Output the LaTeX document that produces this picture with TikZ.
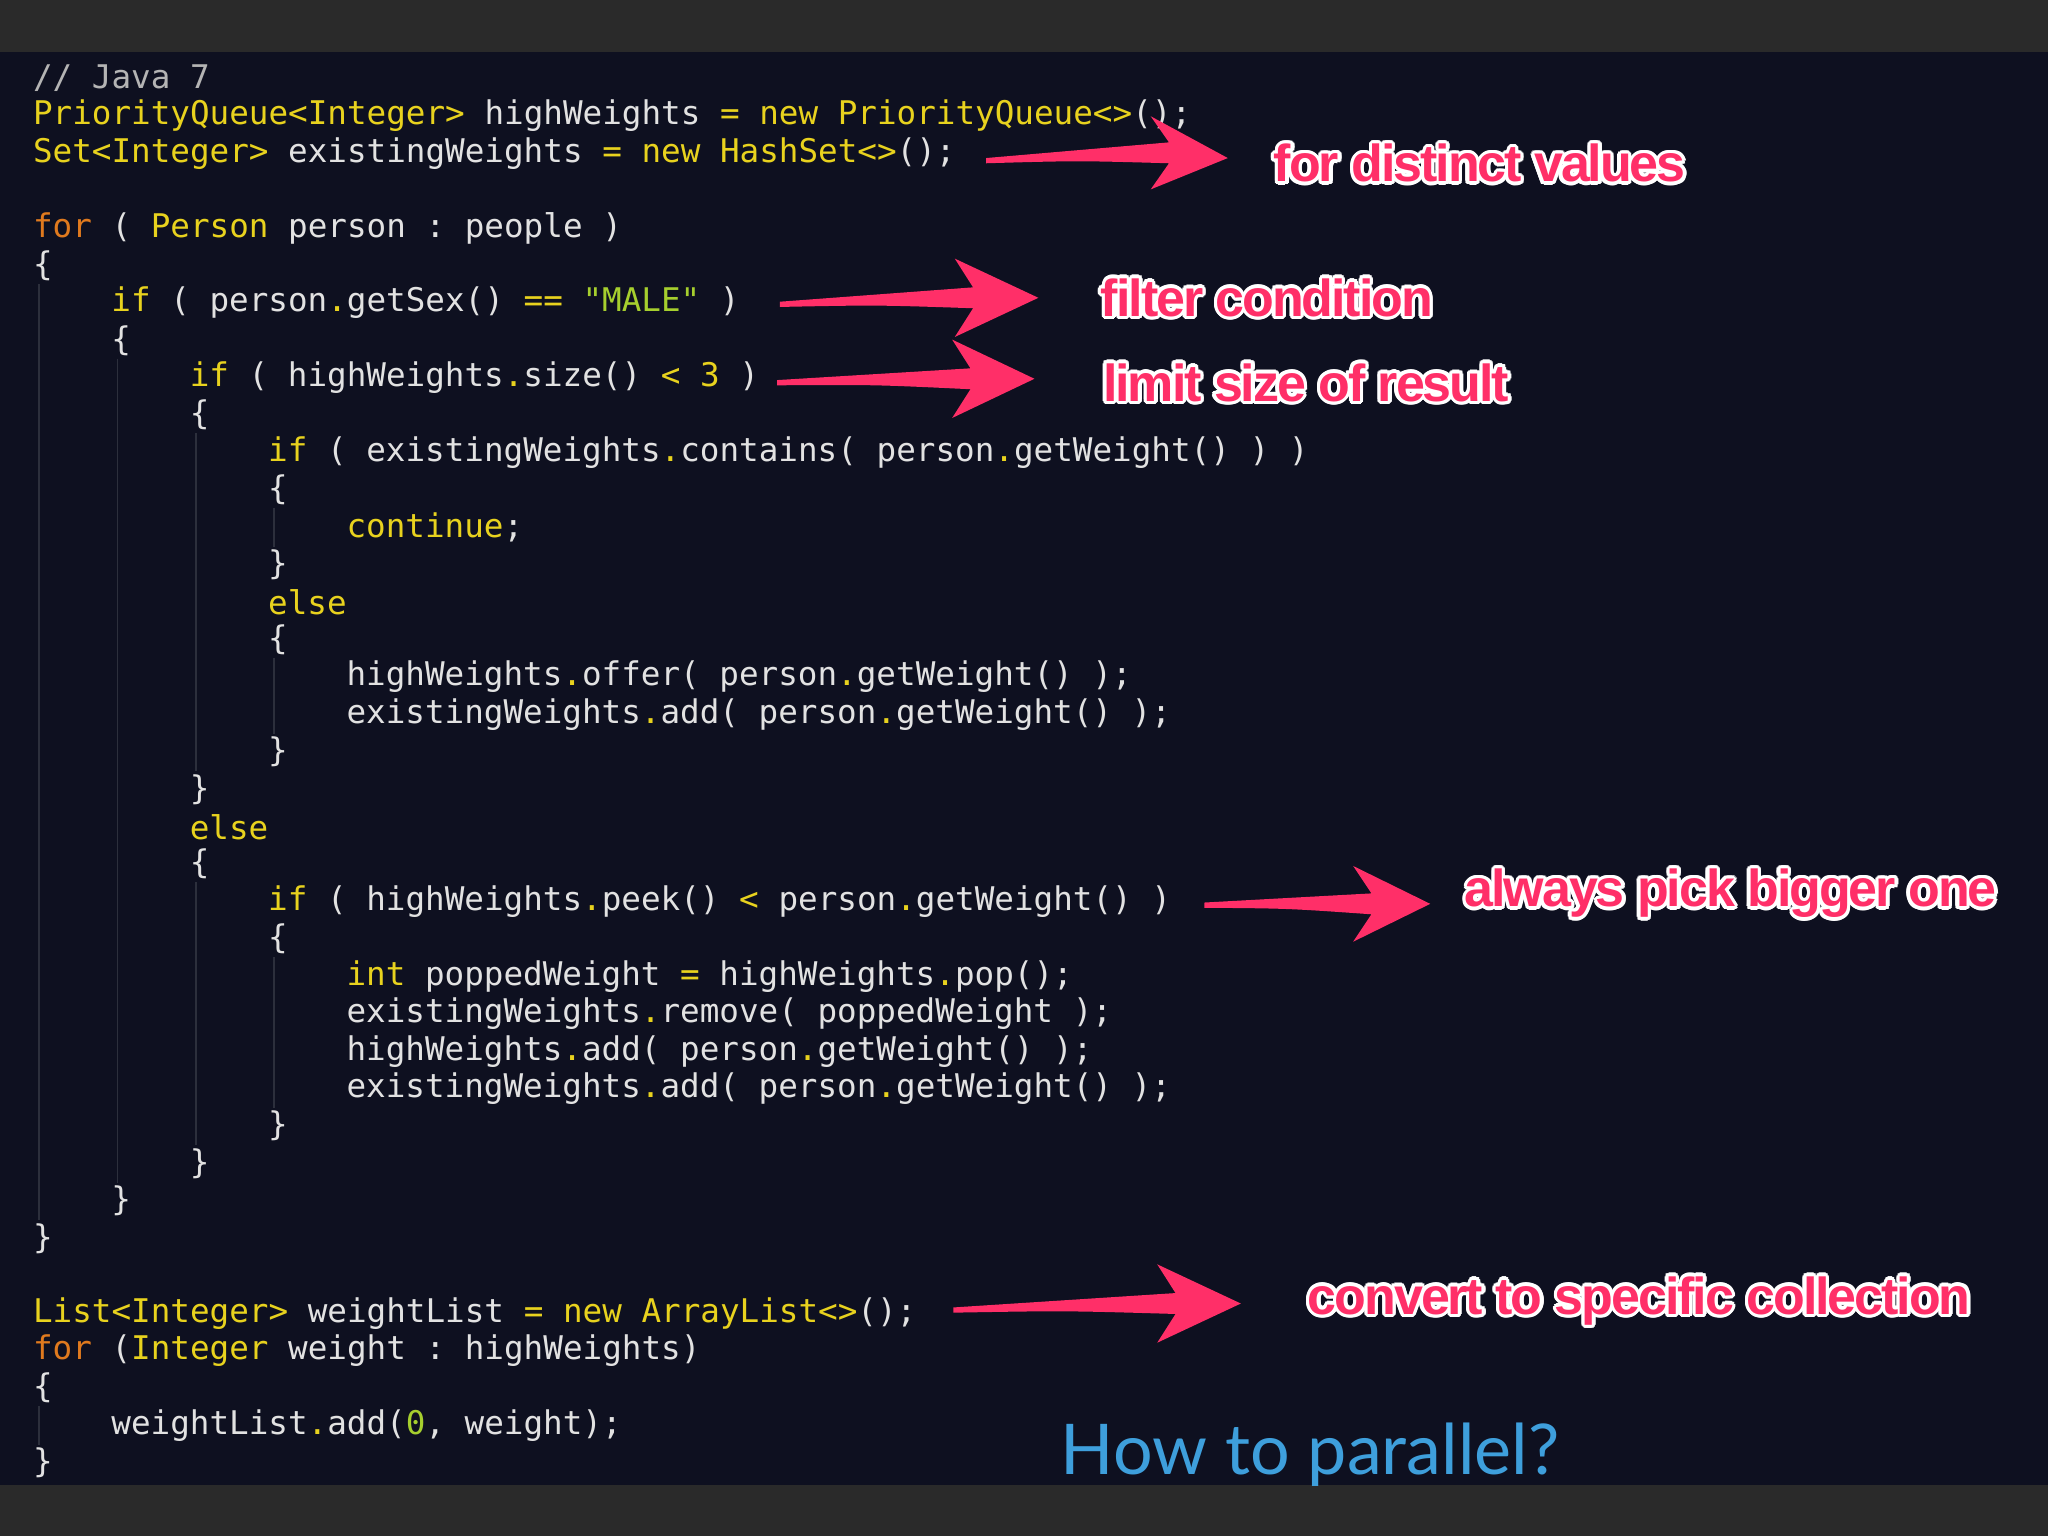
\documentclass[tikz,border=0pt]{standalone}
\usepackage{fontspec}
\setmonofont{DejaVu Sans Mono}
\newfontfamily\labfont[LetterSpace=-4]{Liberation Sans Bold}
\newfontfamily\howfont{Lato}
\usetikzlibrary{calc}
\definecolor{bg}{HTML}{0E1020}
\definecolor{bar}{HTML}{2A2A2A}
\definecolor{codefg}{HTML}{E2E2E2}
\definecolor{kw}{HTML}{E8D21E}
\definecolor{kwo}{HTML}{E07A1E}
\definecolor{str}{HTML}{A6CF2E}
\definecolor{cmt}{HTML}{B4B4B4}
\definecolor{pinkc}{HTML}{FF2F68}
\definecolor{guide}{HTML}{2C2F3C}
\definecolor{howc}{HTML}{3E9FDC}
\newcommand{\K}[1]{\textcolor{kw}{#1}}
\newcommand{\F}[1]{\textcolor{kwo}{#1}}
\newcommand{\G}[1]{\textcolor{str}{#1}}
\tikzset{
  code/.style={anchor=west,inner sep=0pt,text=codefg,font=\fontsize{16.3}{18}\selectfont\ttfamily},
  lab/.style={inner sep=0pt,font=\fontsize{26}{30}\selectfont\labfont},
  guideline/.style={draw=guide,line width=0.8pt},
}
\newcommand{\cl}[3]{\node[code] (l#1) at ({25+60*#2},{60+28.65*#1}) {#3};}
\newcommand{\olabel}[4]{%
  \foreach \a in {0,22.5,...,337.5} \node[lab,text=white] at ($(#2,#3)+(\a:1.7pt)$) {#4};
  \node[lab,text=pinkc] (#1) at (#2,#3) {#4};}
\newcommand{\fatarrow}[8]{%
  \coordinate (#1t) at (#2,#3);
  \coordinate (#1b) at (#4,#5);
  \coordinate (#1h) at (#6,#7);
  \fill[pinkc] ($(#1t)+(0,-2)$) .. controls ($(#1t)!0.5!(#1b)+(0,-5)$) .. ($(#1b)+(0,-8)$)
     -- ($(#1b)+(-14,-#8)$) -- (#1h) -- ($(#1b)+(-14,#8)$) -- ($(#1b)+(0,8)$)
     .. controls ($(#1t)!0.5!(#1b)+(0,3)$) .. ($(#1t)+(0,2)$) -- cycle;}
\begin{document}
\begin{tikzpicture}[x=0.653pt,y=-0.653pt]
\useasboundingbox (0,0) rectangle (1568,1176);
\fill[bg] (0,0) rectangle (1568,1176);
\fill[bar] (0,0) rectangle (1568,40);
\fill[bar] (0,1137) rectangle (1568,1176);
\foreach \lv/\a/\b in {0/5/31,1/7/30,2/9/19,3/11/13,3/15/18,2/21/29,3/23/28,0/35/37}
  \draw[guideline] ({30+60*\lv},{60+28.65*\a+14}) -- ({30+60*\lv},{60+28.65*\b-14});
\node[code,text=cmt] (l0) at (25,60) {// Java 7};
\cl{1}{0}{\K{PriorityQueue<Integer>} highWeights \K{=} \K{new} \K{PriorityQueue<>}();}
\cl{2}{0}{\K{Set<Integer>} existingWeights \K{=} \K{new} \K{HashSet<>}();}
\cl{4}{0}{\F{for} ( \K{Person} person : people )}
\cl{5}{0}{\{}
\cl{6}{1}{\K{if} ( person\K{.}getSex() \K{==} \G{"MALE"} )}
\cl{7}{1}{\{}
\cl{8}{2}{\K{if} ( highWeights\K{.}size() \K{<} \K{3} )}
\cl{9}{2}{\{}
\cl{10}{3}{\K{if} ( existingWeights\K{.}contains( person\K{.}getWeight() ) )}
\cl{11}{3}{\{}
\cl{12}{4}{\K{continue};}
\cl{13}{3}{\}}
\cl{14}{3}{\K{else}}
\cl{15}{3}{\{}
\cl{16}{4}{highWeights\K{.}offer( person\K{.}getWeight() );}
\cl{17}{4}{existingWeights\K{.}add( person\K{.}getWeight() );}
\cl{18}{3}{\}}
\cl{19}{2}{\}}
\cl{20}{2}{\K{else}}
\cl{21}{2}{\{}
\cl{22}{3}{\K{if} ( highWeights\K{.}peek() \K{<} person\K{.}getWeight() )}
\cl{23}{3}{\{}
\cl{24}{4}{\K{int} poppedWeight \K{=} highWeights\K{.}pop();}
\cl{25}{4}{existingWeights\K{.}remove( poppedWeight );}
\cl{26}{4}{highWeights\K{.}add( person\K{.}getWeight() );}
\cl{27}{4}{existingWeights\K{.}add( person\K{.}getWeight() );}
\cl{28}{3}{\}}
\cl{29}{2}{\}}
\cl{30}{1}{\}}
\cl{31}{0}{\}}
\cl{33}{0}{\K{List<Integer>} weightList \K{=} \K{new} \K{ArrayList<>}();}
\cl{34}{0}{\F{for} (\K{Integer} weight : highWeights)}
\cl{35}{0}{\{}
\cl{36}{1}{weightList\K{.}add(\G{0}, weight);}
\cl{37}{0}{\}}
\fatarrow{a1}{755}{123}{895}{117}{940}{121}{28}
\fatarrow{a2}{597}{233}{745}{228}{795}{228}{30}
\fatarrow{a3}{595}{293}{743}{290}{792}{290}{30}
\fatarrow{a4}{922}{693}{1050}{692}{1095}{692}{29}
\fatarrow{a5}{730}{1003}{900}{998}{950}{998}{30}
\olabel{t1}{1133}{125}{for distinct values}
\olabel{t2}{970}{228}{filter condition}
\olabel{t3}{1000}{293}{limit size of result}
\olabel{t4}{1325}{684}{always pick bigger one}
\olabel{t5}{1255}{996}{convert to specific collection}
\node[inner sep=0pt,text=howc,font=\fontsize{35}{40}\selectfont\howfont] (how) at (1003,1114) {How to parallel?};
\end{tikzpicture}
\end{document}
